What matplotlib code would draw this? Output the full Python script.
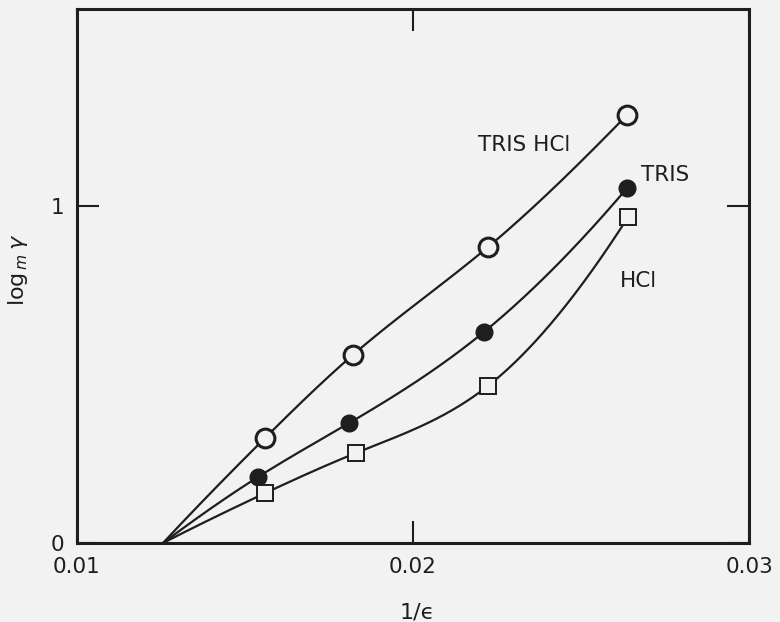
import numpy as np
import matplotlib
matplotlib.use("Agg")
import matplotlib.pyplot as plt

# ---- data ----
x_start = 0.01256   # common origin of the three curves (log γ = 0)
y_start = 0.0

tris_hcl_x = [0.01560, 0.01821, 0.02223, 0.02637]
tris_hcl_y = [0.312, 0.558, 0.878, 1.270]

tris_x = [0.01539, 0.01810, 0.02211, 0.02637]
tris_y = [0.196, 0.356, 0.626, 1.053]

hcl_x = [0.01560, 0.01830, 0.02223, 0.02640]
hcl_y = [0.148, 0.267, 0.466, 0.967]

xticks = [0.01, 0.02, 0.03]
xtick_labels = ["0.01", "0.02", "0.03"]
yticks = [0, 1]
ytick_labels = ["0", "1"]

labels = ["TRIS HCl", "TRIS", "HCl"]
label_pos = [(0.02330, 1.181), (0.02750, 1.092), (0.02670, 0.777)]


def smooth(x, y, xs):
    """Clamped cubic spline through the points (C2 smooth), end slopes from
    one-sided three-point estimates."""
    x = np.asarray(x, float); y = np.asarray(y, float)
    n = len(x)
    h = np.diff(x); d = np.diff(y) / h
    m0 = ((2 * h[0] + h[1]) * d[0] - h[0] * d[1]) / (h[0] + h[1])
    mn = ((2 * h[-1] + h[-2]) * d[-1] - h[-1] * d[-2]) / (h[-1] + h[-2])
    A = np.zeros((n, n)); b = np.zeros(n)
    A[0, 0] = 1; b[0] = m0
    A[-1, -1] = 1; b[-1] = mn
    for i in range(1, n - 1):
        A[i, i - 1] = h[i]
        A[i, i] = 2 * (h[i - 1] + h[i])
        A[i, i + 1] = h[i - 1]
        b[i] = 3 * (h[i] * d[i - 1] + h[i - 1] * d[i])
    m = np.linalg.solve(A, b)
    idx = np.clip(np.searchsorted(x, xs) - 1, 0, n - 2)
    t = (xs - x[idx]) / h[idx]
    h00 = 2 * t**3 - 3 * t**2 + 1; h10 = t**3 - 2 * t**2 + t
    h01 = -2 * t**3 + 3 * t**2; h11 = t**3 - t**2
    return h00 * y[idx] + h10 * h[idx] * m[idx] + h01 * y[idx + 1] + h11 * h[idx] * m[idx + 1]


bg = "#f2f2f2"
ink = "#1e1e1e"
fig = plt.figure(figsize=(7.8, 6.22), dpi=100, facecolor=bg)
ax = fig.add_axes([77 / 780, 1 - 543 / 622, 672 / 780, 534 / 622], facecolor=bg)

series = [
    (tris_hcl_x, tris_hcl_y, dict(marker="o", ms=13.5, mfc=bg, mec=ink, mew=2.2)),
    (tris_x, tris_y, dict(marker="o", ms=12, mfc=ink, mec=ink, mew=1)),
    (hcl_x, hcl_y, dict(marker="s", ms=11.5, mfc=bg, mec=ink, mew=1.4)),
]
for xs_, ys_, mk in series:
    cx = [x_start] + list(xs_)
    cy = [y_start] + list(ys_)
    xx = np.linspace(cx[0], cx[-1], 400)
    ax.plot(xx, smooth(cx, cy, xx), color=ink, lw=1.6, zorder=2)
    ax.plot(xs_, ys_, ls="none", zorder=3, **mk)

for txt, (tx, ty) in zip(labels, label_pos):
    ax.text(tx, ty, txt, ha="center", va="center", fontsize=15.5, color=ink)

ax.set_xlim(0.01, 0.03)
ax.set_ylim(0, 534 / 337)
ax.set_xticks(xticks)
ax.set_xticklabels(xtick_labels)
ax.set_yticks(yticks)
ax.set_yticklabels(ytick_labels)
ax.tick_params(direction="in", length=16, width=1.5, colors=ink, labelsize=15.5,
               top=True, right=True)
ax.tick_params(axis="x", pad=10)
ax.tick_params(axis="y", pad=9)
for s in ax.spines.values():
    s.set_linewidth(2.2)
    s.set_color(ink)

ax.set_xlabel("1/ϵ", fontsize=16, color=ink)
ax.xaxis.label.set_va("center")
ax.xaxis.set_label_coords(0.507, -0.131)
ax.set_ylabel(r"$\mathrm{log}_{\,m}\,\gamma$", fontsize=16, color=ink)
ax.yaxis.label.set_va("center")
ax.yaxis.label.set_ha("center")
ax.yaxis.set_label_coords(-0.088, 0.511)

fig.savefig("out.png", dpi=100, facecolor=bg)
